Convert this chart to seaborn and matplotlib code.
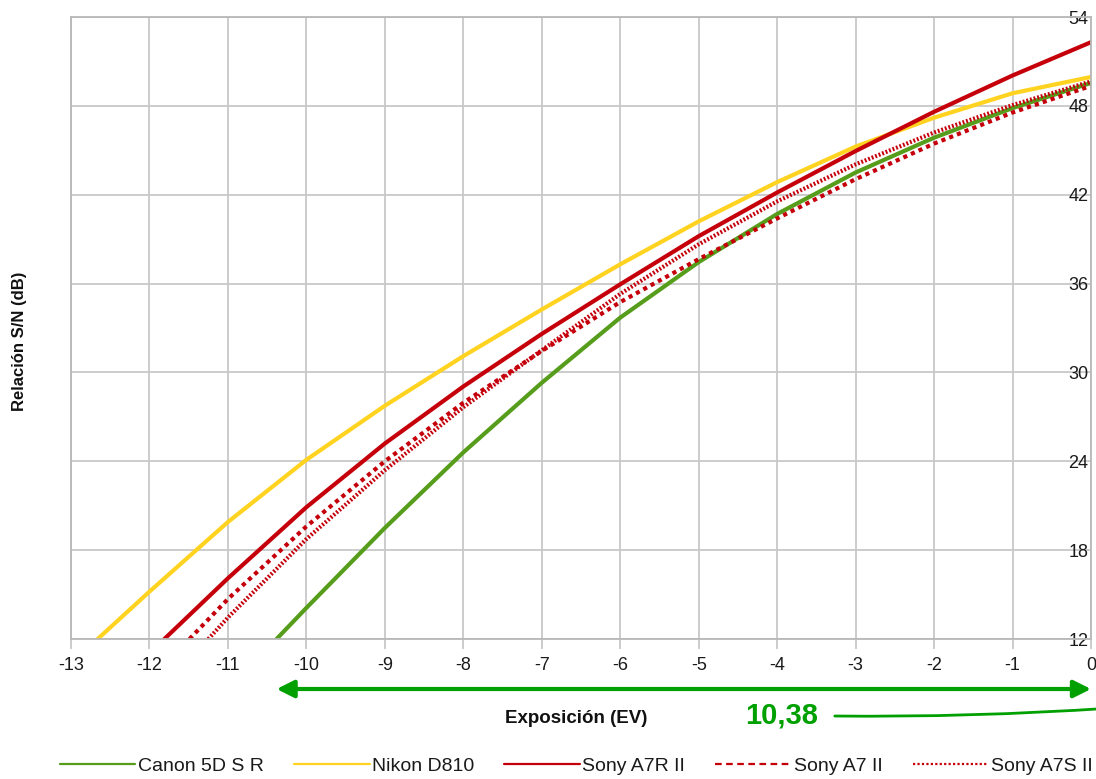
import matplotlib
matplotlib.use("Agg")
import matplotlib.pyplot as plt
import seaborn as sns
import pandas as pd
from matplotlib.ticker import FixedLocator

# Signal-to-noise ratio (dB) against exposure (EV below saturation)
cameras = ["Canon 5D S R", "Nikon D810", "Sony A7R II", "Sony A7 II", "Sony A7S II"]

canon_ev = [-10.38, -10, -9, -8, -7, -6, -5, -4, -3, -2, -1, 0]
canon_snr = [12.0, 14.1, 19.5, 24.6, 29.3, 33.7, 37.45, 40.7, 43.5, 45.85, 47.85, 49.55]

nikon_ev = [-12.66, -12, -11, -10, -9, -8, -7, -6, -5, -4, -3, -2, -1, 0]
nikon_snr = [12.0, 15.2, 19.9, 24.1, 27.75, 31.1, 34.25, 37.3, 40.2, 42.85, 45.25, 47.2, 48.85, 49.95]

a7r2_ev = [-11.81, -11, -10, -9, -8, -7, -6, -5, -4, -3, -2, -1, 0]
a7r2_snr = [12.0, 16.1, 20.9, 25.2, 29.05, 32.6, 35.95, 39.2, 42.15, 44.95, 47.6, 50.05, 52.3]

a72_ev = [-11.49, -11, -10, -9, -8, -7, -6, -5, -4, -3, -2, -1, 0]
a72_snr = [12.0, 14.7, 19.6, 24.0, 27.95, 31.45, 34.75, 37.65, 40.4, 43.05, 45.45, 47.55, 49.35]

a7s2_ev = [-11.25, -11, -10, -9, -8, -7, -6, -5, -4, -3, -2, -1, 0]
a7s2_snr = [12.0, 13.45, 18.75, 23.4, 27.65, 31.5, 35.3, 38.65, 41.55, 44.05, 46.2, 48.05, 49.65]

x_ticks = list(range(-13, 1))
y_ticks = [12, 18, 24, 30, 36, 42, 48, 54]

series = {
    "Canon 5D S R": (canon_ev, canon_snr),
    "Nikon D810": (nikon_ev, nikon_snr),
    "Sony A7R II": (a7r2_ev, a7r2_snr),
    "Sony A7 II": (a72_ev, a72_snr),
    "Sony A7S II": (a7s2_ev, a7s2_snr),
}
rows = []
for name, (xs, ys) in series.items():
    for x, y in zip(xs, ys):
        rows.append({"ev": x, "snr": y, "camera": name})
df = pd.DataFrame(rows)

palette = {
    "Canon 5D S R": "#579d1c",
    "Nikon D810": "#ffd320",
    "Sony A7R II": "#c5000b",
    "Sony A7 II": "#c5000b",
    "Sony A7S II": "#c5000b",
}
dash_styles = {
    "Canon 5D S R": "",
    "Nikon D810": "",
    "Sony A7R II": "",
    "Sony A7 II": (1, 1),
    "Sony A7S II": (0.45, 0.45),
}
accent = "#00a000"

sns.set_style("whitegrid")
plt.rcParams["font.family"] = ["Liberation Sans", "DejaVu Sans"]
plt.rcParams["axes.unicode_minus"] = False

fig = plt.figure(figsize=(10.96, 7.79), dpi=100)
ax = fig.add_axes([71 / 1096, 140 / 779, 1020 / 1096, 622 / 779])

sns.lineplot(
    data=df, x="ev", y="snr", hue="camera", style="camera",
    hue_order=cameras, style_order=cameras,
    palette=palette, dashes=dash_styles, estimator=None, sort=True,
    linewidth=3, legend=False, ax=ax,
)

ax.set_xlim(-13, 0)
ax.set_ylim(12, 54)
ax.xaxis.set_major_locator(FixedLocator(x_ticks))
ax.set_xticklabels([str(t) for t in x_ticks])
ax.yaxis.set_major_locator(FixedLocator(y_ticks))
ax.set_yticklabels([str(t) for t in y_ticks])

ax.grid(True, color="#c8c8c8", linewidth=1.3)
for sp in ax.spines.values():
    sp.set_color("#b8b8b8")
    sp.set_linewidth(1.3)

ax.tick_params(axis="x", length=7, width=1.3, color="#c8c8c8", pad=6,
               labelsize=13, labelcolor="#1a1a1a", bottom=True)
ax.yaxis.tick_right()
ax.tick_params(axis="y", length=0, pad=-2, labelsize=13, labelcolor="#1a1a1a")
for lab in ax.get_yticklabels():
    lab.set_horizontalalignment("right")

ax.set_xlabel("Exposición (EV)", fontsize=13.5, fontweight="bold", color="#111111")
ax.xaxis.set_label_coords(0.495, -0.114)
ax.set_ylabel("Relación S/N (dB)", fontsize=12, fontweight="bold", color="#111111")
ax.yaxis.set_label_position("left")
ax.yaxis.set_label_coords(-0.043, 0.479)

# Usable range of the Canon, from its 12 dB point up to saturation
span = -canon_ev[0]
ax.annotate(
    "", xy=(canon_ev[0], -0.0804), xytext=(0, -0.0804),
    xycoords=ax.get_xaxis_transform(), textcoords=ax.get_xaxis_transform(),
    arrowprops=dict(arrowstyle="<|-|>", color=accent, lw=3,
                    mutation_scale=26, shrinkA=0, shrinkB=0),
    annotation_clip=False,
)
fig.text(782 / 1096, 63 / 779, f"{span:.2f}".replace(".", ","),
         color=accent, fontsize=21, fontweight="bold", ha="center", va="center")
fig.add_artist(matplotlib.patches.FancyArrowPatch(
    (832, 63), (1112, 71), transform=None,
    arrowstyle="-", connectionstyle="arc3,rad=0.02",
    color=accent, lw=2,
))

leg = fig.legend(
    ax.lines[:len(cameras)], cameras, loc="center",
    bbox_to_anchor=(576 / 1096, 13 / 779), ncol=5, frameon=False,
    fontsize=14, handlelength=3.9, handletextpad=0.12, columnspacing=1.55,
    labelcolor="#1a1a1a",
)
leg_dashes = [None, None, None, (3, 2), (1, 1)]
for line, d in zip(leg.get_lines(), leg_dashes):
    line.set_linewidth(1.6)
    if d is not None:
        line.set_dashes(d)

fig.savefig("out.png", dpi=100)
